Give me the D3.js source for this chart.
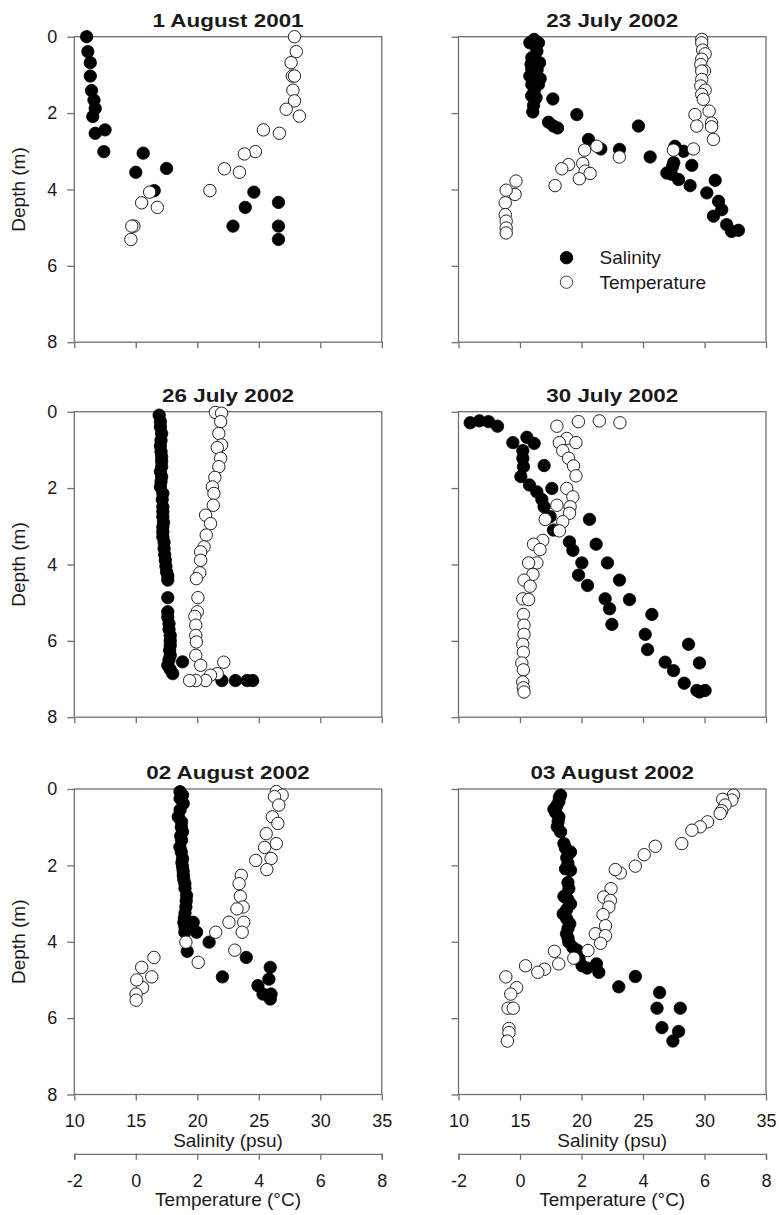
<!DOCTYPE html>
<html>
<head>
<meta charset="utf-8">
<script src="https://cdn.jsdelivr.net/npm/d3@7"></script>
<style>
  body { margin: 0; background: #fff; }
  text { font-family: "Liberation Sans", Arial, sans-serif; fill: #1a1a1a; }
</style>
</head>
<body>
<svg id="chart"></svg>
<script>
// Profiles: [value, depth (m)]; salinity in psu, temperature in deg C
const titles = ["1 August 2001", "23 July 2002", "26 July 2002", "30 July 2002", "02 August 2002", "03 August 2002"];

const sal1 = [[11.0,0.0],[11.1,0.39],[11.3,0.68],[11.3,1.03],[11.4,1.41],[11.6,1.66],[11.7,1.88],[11.5,2.09],[12.5,2.44],[11.7,2.53],[12.4,3.01],[15.6,3.05],[15.0,3.55],[17.5,3.45],[16.5,4.03],[24.6,4.07],[26.6,4.34],[23.9,4.47],[22.9,4.96],[26.6,4.96],[26.6,5.31]];
const temp1 = [[5.16,0],[5.22,0.39],[5.05,0.68],[5.09,1.03],[5.16,1.03],[5.11,1.40],[5.16,1.68],[4.89,1.90],[5.32,2.08],[4.15,2.44],[4.67,2.53],[3.89,3.01],[3.53,3.07],[2.88,3.46],[3.37,3.55],[2.41,4.03],[0.45,4.07],[0.19,4.35],[0.70,4.47],[-0.06,4.96],[-0.13,4.96],[-0.16,5.31]];

const sal2 = [[16.15,0.07],[16.15,0.2],[15.8,0.16],[16.5,0.16],[16.37,0.38],[15.96,0.55],[16.59,0.68],[15.9,0.72],[15.96,0.85],[16.4,0.86],[16.1,0.98],[16.64,1.1],[15.8,1.03],[15.96,1.25],[16.5,1.25],[16.15,1.42],[16.31,1.6],[15.95,1.55],[16.1,1.8],[16.04,1.97],[17.67,1.63],[19.62,2.04],[17.32,2.24],[17.72,2.34],[18.05,2.39],[20.57,2.69],[21.57,2.94],[23.09,2.95],[24.63,2.34],[25.58,3.15],[27.6,2.87],[28.3,3.0],[27.5,3.30],[27.4,3.4],[28.97,3.37],[26.94,3.57],[27.3,3.6],[27.89,3.74],[28.83,3.90],[30.87,3.76],[30.19,4.09],[31.14,4.31],[30.73,4.70],[31.4,4.53],[31.8,4.92],[32.2,5.10],[32.76,5.07]];
const temp2 = [[5.91,0.07],[5.91,0.16],[5.94,0.35],[6.02,0.45],[5.91,0.59],[5.88,0.73],[6.0,0.9],[5.91,0.9],[5.91,1.12],[5.88,1.29],[6.02,1.4],[5.91,1.51],[5.96,1.64],[6.15,1.95],[5.69,2.04],[6.23,2.26],[6.23,2.36],[5.75,2.34],[6.29,2.69],[5.64,2.94],[4.99,2.97],[2.50,2.87],[2.10,2.97],[3.23,3.15],[2.04,3.32],[1.58,3.35],[1.36,3.46],[2.12,3.52],[2.28,3.58],[1.93,3.72],[1.14,3.90],[-0.13,3.78],[-0.16,4.13],[-0.45,4.02],[-0.48,4.35],[-0.48,4.66],[-0.45,4.83],[-0.45,5.01],[-0.45,5.14]];

const sal3 = [[16.9,0.09],[17.0,0.26],[17.0,0.4],[17.1,0.57],[17.05,0.75],[17.0,0.9],[17.05,1.05],[17.1,1.18],[17.1,1.3],[17.1,1.44],[17.0,1.57],[17.1,1.7],[17.05,1.83],[17.0,1.97],[17.2,2.14],[17.15,2.3],[17.2,2.49],[17.2,2.62],[17.2,2.75],[17.25,2.9],[17.2,3.02],[17.2,3.15],[17.2,3.28],[17.3,3.42],[17.3,3.58],[17.35,3.74],[17.4,3.89],[17.45,4.05],[17.5,4.2],[17.6,4.3],[17.6,4.41],[17.6,4.87],[17.6,5.24],[17.6,5.38],[17.7,5.55],[17.7,5.7],[17.8,5.86],[17.8,6.0],[17.8,6.12],[17.75,6.25],[17.8,6.38],[17.7,6.5],[17.6,6.64],[17.8,6.75],[18.0,6.86],[18.8,6.55],[22.0,7.04],[23.1,7.04],[24.05,7.04],[24.5,7.04]];
const temp3 = [[2.59,0.02],[2.79,0.04],[2.76,0.26],[2.7,0.57],[2.79,0.87],[2.65,0.94],[2.76,1.22],[2.70,1.44],[2.57,1.72],[2.49,1.97],[2.54,2.14],[2.52,2.45],[2.27,2.71],[2.43,2.93],[2.29,3.23],[2.22,3.54],[2.11,3.67],[2.11,3.89],[2.08,4.22],[1.97,4.37],[2.02,4.87],[2.0,5.24],[1.92,5.36],[1.95,5.59],[1.95,5.86],[1.97,6.03],[1.95,6.38],[2.11,6.64],[2.86,6.56],[2.65,6.86],[2.43,6.9],[2.27,7.04],[1.95,7.04],[1.75,7.04]];

const sal4 = [[10.95,0.29],[11.7,0.24],[12.44,0.26],[13.17,0.38],[14.42,0.81],[15.56,0.67],[16.15,0.83],[15.23,1.02],[15.23,1.22],[15.28,1.44],[15.07,1.70],[15.77,1.92],[16.96,1.41],[17.59,2.01],[16.37,2.10],[16.78,2.30],[16.96,2.49],[17.45,2.75],[17.72,3.10],[20.65,2.82],[19.02,3.41],[19.3,3.63],[21.19,3.47],[20.03,3.96],[19.76,4.28],[20.49,4.55],[22.11,3.96],[23.09,4.41],[21.92,4.90],[22.28,5.16],[23.9,4.92],[22.47,5.57],[25.72,5.31],[25.18,5.83],[25.37,6.23],[28.7,6.09],[26.8,6.56],[27.48,6.78],[29.59,6.58],[28.35,7.11],[29.38,7.30],[30.05,7.30],[29.6,7.34]];
const temp4 = [[1.90,0.26],[2.58,0.24],[3.25,0.29],[1.20,0.38],[1.52,0.70],[1.82,0.81],[1.28,0.81],[1.39,1.02],[1.58,1.22],[1.74,1.42],[1.82,1.68],[1.52,2.01],[1.72,2.23],[1.20,2.45],[1.63,2.49],[1.61,2.66],[0.82,2.82],[1.39,2.88],[1.28,3.12],[0.74,3.37],[0.44,3.47],[0.65,3.61],[0.55,3.96],[0.28,3.96],[0.42,4.26],[0.13,4.41],[0.33,4.57],[0.09,4.90],[0.28,4.92],[0.11,5.31],[0.13,5.59],[0.13,5.83],[0.09,6.09],[0.11,6.30],[0.06,6.58],[0.11,6.76],[0.09,7.08],[0.11,7.23],[0.13,7.34]];

const sal5 = [[18.59,0.07],[18.8,0.16],[18.6,0.25],[18.86,0.38],[18.6,0.55],[18.45,0.73],[18.72,0.86],[18.7,1.0],[18.8,1.12],[18.65,1.23],[18.72,1.34],[18.59,1.52],[18.7,1.65],[18.8,1.82],[18.75,1.93],[18.8,2.04],[18.85,2.15],[18.86,2.26],[18.9,2.37],[18.99,2.48],[19.0,2.6],[19.13,2.79],[19.1,2.93],[19.07,3.09],[19.0,3.25],[18.95,3.38],[18.91,3.49],[19.67,3.49],[19.0,3.62],[18.99,3.75],[19.94,3.75],[20.96,4.01],[19.18,4.25],[23.98,4.41],[25.93,4.67],[25.82,4.98],[24.93,5.15],[25.34,5.37],[26.0,5.37],[25.93,5.50],[22.04,4.92]];
const temp5 = [[4.57,0.07],[4.76,0.16],[4.51,0.20],[4.65,0.42],[4.44,0.73],[4.62,0.90],[4.24,1.17],[4.57,1.43],[4.19,1.53],[4.40,1.82],[3.90,1.87],[4.26,2.11],[3.43,2.26],[3.36,2.48],[3.40,2.81],[3.49,3.09],[3.29,3.14],[3.51,3.49],[3.03,3.49],[3.46,3.75],[2.60,3.75],[3.22,4.22],[1.63,4.01],[2.03,4.54],[0.59,4.41],[0.19,4.67],[0.52,4.92],[0.22,5.20],[0.03,5.00],[0.01,5.37],[0.01,5.53]];

const sal6 = [[18.30,0.16],[18.2,0.22],[18.16,0.33],[18.0,0.43],[17.76,0.53],[17.9,0.62],[18.16,0.73],[18.1,0.85],[18.03,0.99],[18.30,1.12],[18.57,1.43],[18.7,1.55],[19.11,1.65],[18.8,1.8],[18.9,1.95],[18.70,2.09],[19.11,2.13],[18.9,2.45],[18.97,2.61],[18.57,2.81],[18.9,2.9],[19.11,3.01],[18.8,3.15],[18.51,3.27],[18.8,3.4],[19.05,3.53],[18.9,3.65],[18.78,3.79],[18.9,3.9],[18.97,4.01],[19.3,4.15],[19.65,4.22],[19.8,4.45],[20.05,4.63],[20.46,4.69],[21.22,4.58],[21.41,4.80],[23.03,5.18],[24.38,4.91],[26.35,5.33],[26.14,5.74],[28.03,5.74],[26.54,6.25],[27.89,6.35],[27.43,6.60]];
const temp6 = [[6.94,0.16],[6.89,0.29],[6.59,0.27],[6.67,0.42],[6.56,0.57],[6.51,0.64],[6.10,0.86],[5.86,0.99],[5.59,1.08],[5.26,1.43],[4.40,1.50],[4.04,1.72],[3.75,2.02],[3.26,2.20],[3.10,2.11],[2.96,2.61],[2.72,2.83],[2.94,2.92],[2.89,3.09],[2.70,3.29],[2.78,3.58],[2.45,3.79],[2.78,3.84],[2.62,4.04],[2.21,4.23],[1.12,4.25],[1.75,4.43],[1.26,4.58],[0.80,4.72],[0.18,4.63],[0.58,4.80],[-0.46,4.92],[-0.11,5.20],[-0.30,5.37],[-0.39,5.74],[-0.22,5.74],[-0.36,6.27],[-0.36,6.38],[-0.41,6.60]];

const depthTicks = [0, 2, 4, 6, 8];
const salTicks = [10, 15, 20, 25, 30, 35];
const tempTicks = [-2, 0, 2, 4, 6, 8];
const legendLabels = ["Salinity", "Temperature"];

const panels = [
  {title: titles[0], sal: sal1, temp: temp1, col: 0, row: 0},
  {title: titles[1], sal: sal2, temp: temp2, col: 1, row: 0},
  {title: titles[2], sal: sal3, temp: temp3, col: 0, row: 1},
  {title: titles[3], sal: sal4, temp: temp4, col: 1, row: 1},
  {title: titles[4], sal: sal5, temp: temp5, col: 0, row: 2},
  {title: titles[5], sal: sal6, temp: temp6, col: 1, row: 2}
];

const width = 779, height = 1215;
const colX = [74.3, 458.5];
const rowY = [36.7, 411.7, 789];
const pw = 307.5, ph = 305.5;
const r = 6.2;
const frameColor = "#707070";
const plain = d => String(d);   // hyphen minus like the original, not U+2212

const svg = d3.select("#chart").attr("width", width).attr("height", height);

// scales shared by all panels (positions relative to each panel)
const x = d3.scaleLinear().domain([10, 35]).range([0, pw]);
const xt = d3.scaleLinear().domain([-2, 8]).range([0, pw]);
const y = d3.scaleLinear().domain([0, 8]).range([0, ph]);

function styleAxis(g) {
  g.selectAll("line").attr("stroke", frameColor).attr("stroke-width", 1.3);
  g.selectAll("path").attr("stroke", frameColor).attr("stroke-width", 1.3);
  g.selectAll("text").style("font-size", "18px").attr("fill", "#1a1a1a");
}

panels.forEach(p => {
  const g = svg.append("g")
    .attr("transform", `translate(${colX[p.col]},${rowY[p.row]})`);

  // left axis (labels only on the left column)
  const yAxis = d3.axisLeft(y).tickValues(depthTicks).tickSize(7).tickSizeOuter(0).tickPadding(10)
    .tickFormat(p.col === 0 ? plain : "");
  g.append("g").call(yAxis).call(a => a.select(".domain").remove()).call(styleAxis);

  // bottom salinity axis (labels only on the bottom row)
  const xAxis = d3.axisBottom(x).tickValues(salTicks).tickSize(6).tickSizeOuter(0).tickPadding(14)
    .tickFormat(p.row === 2 ? plain : "");
  g.append("g").attr("transform", `translate(0,${ph})`).call(xAxis)
    .call(a => a.select(".domain").remove()).call(styleAxis);

  // frame
  g.append("rect")
    .attr("width", pw).attr("height", ph)
    .attr("fill", "none").attr("stroke", frameColor).attr("stroke-width", 1.3);

  // title (the original type is noticeably wide)
  g.append("text")
    .attr("transform", `translate(${pw / 2},${-10}) scale(1.18,1)`)
    .attr("text-anchor", "middle")
    .style("font-size", "19px").style("font-weight", "bold")
    .attr("fill", "#111")
    .text(p.title);

  // salinity: filled circles
  g.selectAll(".sal")
    .data(p.sal)
    .enter().append("circle")
    .attr("class", "sal")
    .attr("cx", d => x(d[0]))
    .attr("cy", d => y(d[1]))
    .attr("r", r)
    .attr("fill", "#000")
    .attr("stroke", "#000")
    .attr("stroke-width", 0.8);

  // temperature: open circles, drawn on top
  g.selectAll(".temp")
    .data(p.temp)
    .enter().append("circle")
    .attr("class", "temp")
    .attr("cx", d => xt(d[0]))
    .attr("cy", d => y(d[1]))
    .attr("r", r)
    .attr("fill", "#fff")
    .attr("stroke", "#222")
    .attr("stroke-width", 1);

  if (p.col === 0) {
    g.append("text")
      .attr("transform", `translate(${-49},${ph / 2}) rotate(-90)`)
      .attr("text-anchor", "middle")
      .style("font-size", "19px")
      .text("Depth (m)");
  }

  if (p.row === 2) {
    g.append("text")
      .attr("x", pw / 2).attr("y", ph + 52)
      .attr("text-anchor", "middle")
      .style("font-size", "19px")
      .text("Salinity (psu)");

    // second x axis for temperature
    const tAxis = d3.axisBottom(xt).tickValues(tempTicks).tickSize(6).tickSizeOuter(6).tickPadding(14)
      .tickFormat(plain);
    g.append("g").attr("transform", `translate(0,${ph + 59.3})`).call(tAxis).call(styleAxis);

    g.append("text")
      .attr("x", pw / 2).attr("y", ph + 111)
      .attr("text-anchor", "middle")
      .style("font-size", "19px")
      .text("Temperature (°C)");
  }

  // legend in the 23 July panel
  if (p.col === 1 && p.row === 0) {
    const leg = g.append("g").attr("transform", "translate(108,221)");
    legendLabels.forEach((lab, i) => {
      leg.append("circle")
        .attr("cx", 0).attr("cy", i * 24.5)
        .attr("r", r)
        .attr("fill", i === 0 ? "#000" : "#fff")
        .attr("stroke", i === 0 ? "#000" : "#444")
        .attr("stroke-width", 1);
      leg.append("text")
        .attr("x", 33).attr("y", i * 24.5)
        .attr("dy", "0.35em")
        .style("font-size", "19px")
        .text(lab);
    });
  }
});
</script>
</body>
</html>
